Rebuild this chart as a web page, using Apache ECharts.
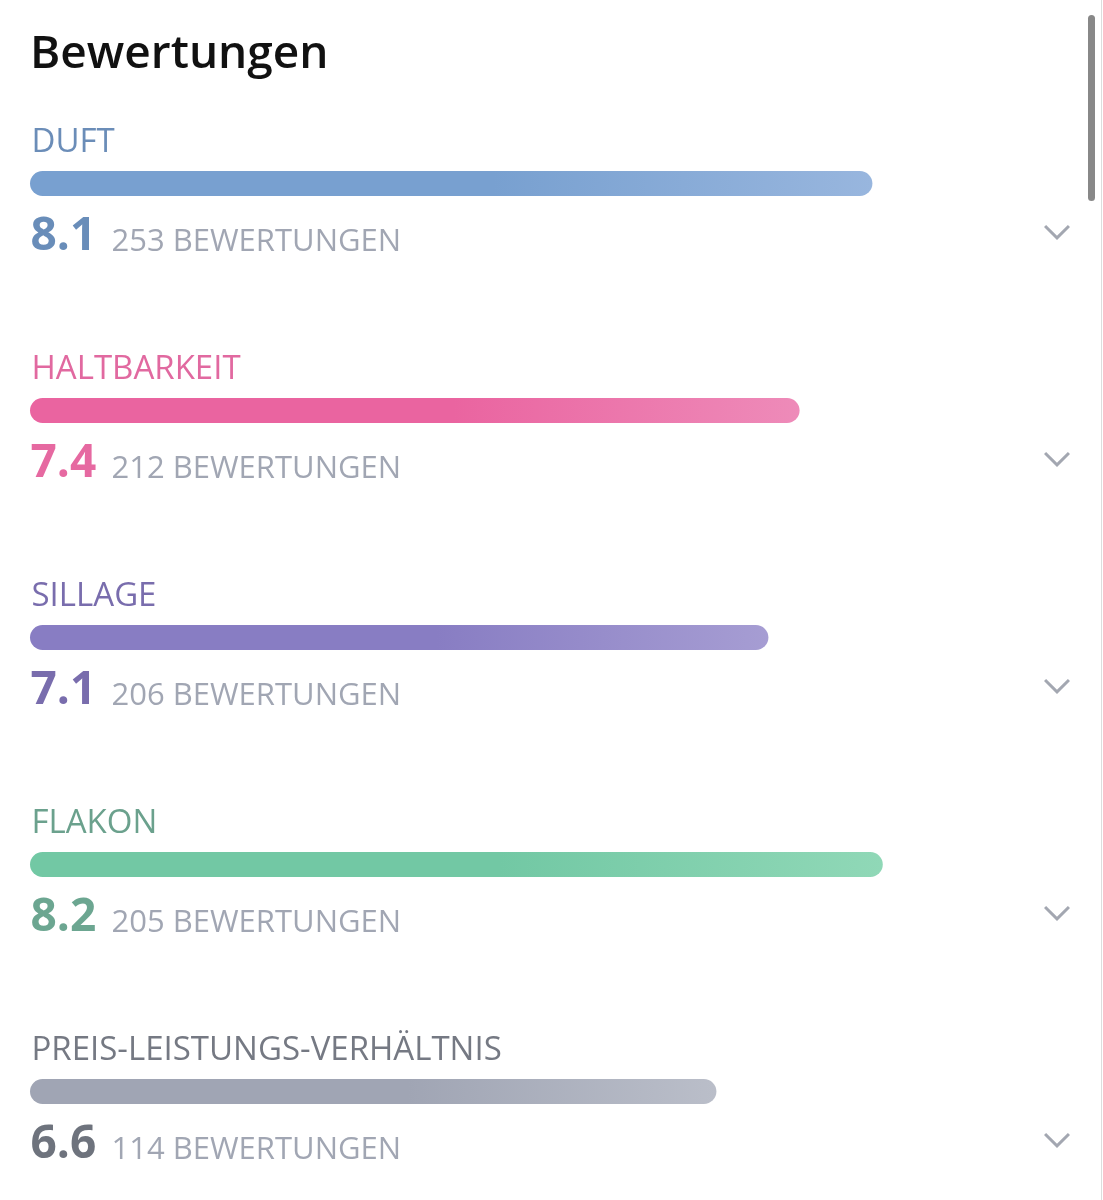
<!DOCTYPE html>
<html>
<head>
<meta charset="utf-8">
<title>Bewertungen</title>
<script src="https://cdn.jsdelivr.net/npm/echarts@6/dist/echarts.min.js"></script>
<style>
  html, body { margin: 0; padding: 0; background: #fff; }
  #chart { width: 1103px; height: 1200px; }
</style>
</head>
<body>
<div id="chart"></div>
<script>
// ---- data ----
const categories = ['DUFT', 'HALTBARKEIT', 'SILLAGE', 'FLAKON', 'PREIS-LEISTUNGS-VERHÄLTNIS'];
const scores = [8.1, 7.4, 7.1, 8.2, 6.6];
const voteCounts = [253, 212, 206, 205, 114];

// colours per row: label, score number, bar start, bar end
const labelColors = ['#4670a6', '#d94488', '#574899', '#468a70', '#525864'];
const scoreColors = ['#4470a8', '#e0448a', '#574999', '#479075', '#4a505c'];
const barStart = ['#78a0d0', '#ea64a0', '#887dc3', '#72c8a4', '#a0a5b4'];
const barEnd = ['#98b6de', '#ee8bb9', '#a69dd3', '#90d8b7', '#babec9'];

const FONT = "'Open Sans', 'Noto Sans', sans-serif";

const chart = echarts.init(document.getElementById('chart'), null, { renderer: 'canvas' });

function barGradient(i) {
  return new echarts.graphic.LinearGradient(0, 0, 1, 0, [
    { offset: 0, color: barStart[i] },
    { offset: 0.55, color: barStart[i] },
    { offset: 1, color: barEnd[i] }
  ]);
}

// transparent scatter points whose labels carry the texts of each row
function textRow(name, fmt, pos, style) {
  return {
    name: name,
    type: 'scatter',
    silent: true,
    symbolSize: 1,
    itemStyle: { color: 'rgba(0,0,0,0)' },
    data: categories.map((c, i) => ({
      value: [0, c],
      label: Object.assign({
        show: true,
        formatter: fmt(i),
        position: pos,
        align: 'left',
        verticalAlign: 'middle',
        fontFamily: FONT
      }, style(i))
    }))
  };
}

const option = {
  backgroundColor: '#ffffff',
  animation: false,
  title: {
    text: 'Bewertungen',
    left: 30,
    top: 32,
    padding: 0,
    textStyle: { fontFamily: FONT, fontSize: 46, fontWeight: 600, color: '#111111' }
  },
  grid: { left: 30, right: 33, top: 183.5, bottom: 108.5, containLabel: false },
  xAxis: { type: 'value', min: 0, max: 10, show: false },
  yAxis: { type: 'category', data: categories, inverse: true, boundaryGap: false, show: false },
  series: [
    {
      name: 'Bewertung',
      type: 'bar',
      silent: true,
      barWidth: 25,
      data: scores.map((v, i) => ({
        value: v,
        itemStyle: { color: barGradient(i), borderRadius: 12.5 }
      }))
    },
    textRow('Kategorie', i => categories[i], [2, -40],
      i => ({ fontSize: 33, color: labelColors[i] })),
    textRow('Note', i => scores[i].toFixed(1), [1, 54],
      i => ({ fontSize: 46, fontWeight: 'bold', color: scoreColors[i] })),
    textRow('Anzahl', i => voteCounts[i] + ' BEWERTUNGEN', [82, 59],
      i => ({ fontSize: 31, color: '#8a90a0' })),
    {
      name: 'Aufklappen',
      type: 'scatter',
      silent: true,
      symbol: 'path://M0,2.1 L2.1,0 L13,10.9 L23.9,0 L26,2.1 L13,15.1 Z',
      symbolSize: [26, 15],
      symbolOffset: [-13, 49],
      itemStyle: { color: '#8c919d' },
      data: categories.map(c => [10, c])
    }
  ],
  graphic: [
    {
      type: 'rect',
      shape: { x: 1088, y: 15, width: 7, height: 186, r: 3.5 },
      style: { fill: '#888888' },
      silent: true
    },
    {
      type: 'line',
      shape: { x1: 1101.5, y1: 0, x2: 1101.5, y2: 1200 },
      style: { stroke: '#dddddd', lineWidth: 1 },
      silent: true
    }
  ]
};

chart.setOption(option);
</script>
</body>
</html>
